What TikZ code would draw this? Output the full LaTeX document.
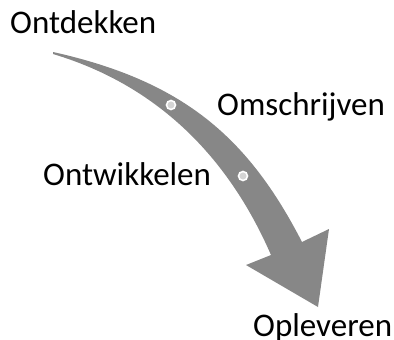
\documentclass[tikz,border=0pt]{standalone}
\usepackage{fontspec}
\setmainfont{Carlito}
\usetikzlibrary{calc}
\definecolor{arrowgray}{HTML}{878787}
\definecolor{dotgray}{HTML}{D4D4D4}
\tikzstyle{phase}=[anchor=base west,inner sep=0pt,font=\fontsize{33}{38}\selectfont]
\tikzstyle{stepdot}=[circle,fill=dotgray,draw=white,line width=1.6pt,minimum size=9pt,inner sep=0pt]
\tikzstyle{bigarrow}=[fill=arrowgray,draw=none]

\begin{document}
\begin{tikzpicture}[x=1pt,y=-1pt]
    \useasboundingbox (0,0) rectangle (394,340);
    % the curved arrow, from tail to head
    \path[bigarrow] (53,52) .. controls (183,81) and (248,137) .. (302,242)
        -- (329,229) -- (318,307) -- (246,265) -- (271,255)
        .. controls (231,163) and (163,87) .. (53,54) -- cycle;

    % dots on the arrow
    \foreach \pos/\name in {{(171,105)/dotA},{(243,176)/dotB}}
        \node[stepdot] (\name) at \pos {};

    % the four phases
    \foreach \pos/\name/\txt in {{(10,33)/ontdekken/Ontdekken},{(217,115)/omschrijven/Omschrijven},
                                {(43,185)/ontwikkelen/Ontwikkelen},{(253,336)/opleveren/Opleveren}}
        \node[phase] (\name) at \pos {\txt};
\end{tikzpicture}
\end{document}
